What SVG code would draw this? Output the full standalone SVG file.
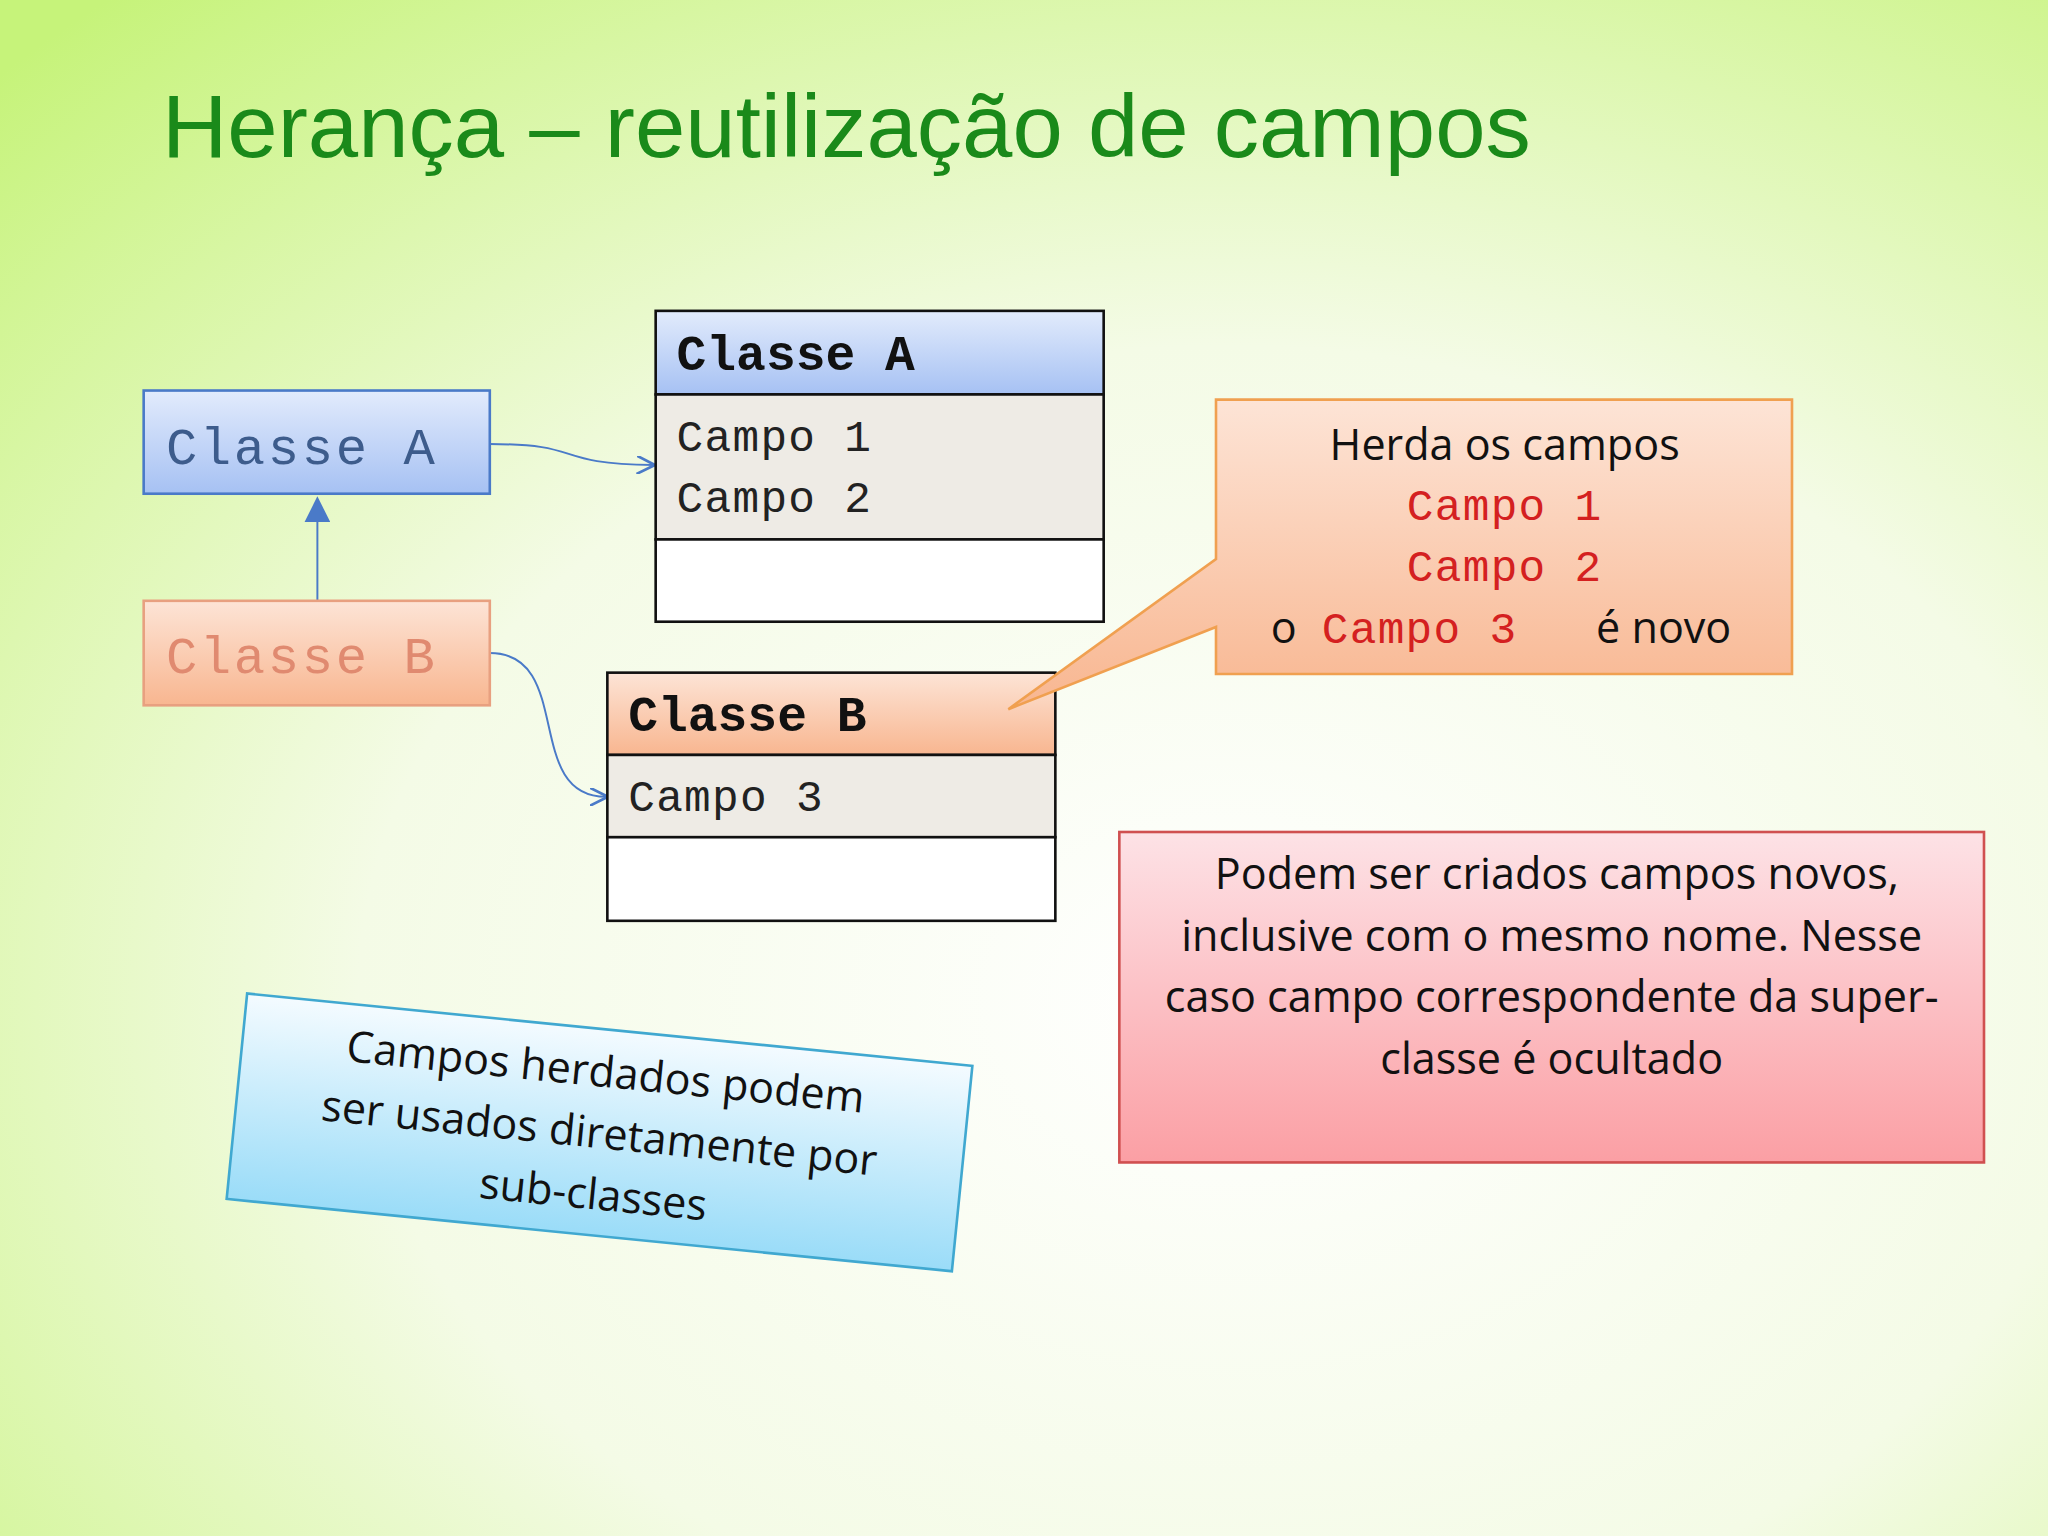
<svg xmlns="http://www.w3.org/2000/svg" width="2048" height="1536" viewBox="0 0 2048 1536">
<defs>
<radialGradient id="bg" cx="0.6" cy="0.65" r="0.85">
<stop offset="0" stop-color="#ffffff"/><stop offset="0.5" stop-color="#f4fbe6"/><stop offset="1" stop-color="#c6f37a"/>
</radialGradient>
<linearGradient id="blue" x1="0" y1="0" x2="0" y2="1"><stop offset="0" stop-color="#e2ebfc"/><stop offset="1" stop-color="#a6c1f3"/></linearGradient>
<linearGradient id="orange" x1="0" y1="0" x2="0" y2="1"><stop offset="0" stop-color="#fde4d6"/><stop offset="1" stop-color="#f8b690"/></linearGradient>
<linearGradient id="pink" x1="0" y1="0" x2="0" y2="1"><stop offset="0" stop-color="#fde2e6"/><stop offset="1" stop-color="#fb9fa4"/></linearGradient>
<linearGradient id="cyan" x1="0" y1="0" x2="0" y2="1"><stop offset="0" stop-color="#f4fbff"/><stop offset="1" stop-color="#9adcf8"/></linearGradient>
<marker id="open" viewBox="0 0 10 10" refX="9" refY="5" markerWidth="14" markerHeight="14" orient="auto" markerUnits="userSpaceOnUse"><path d="M0,0 L10,5 L0,10" fill="none" stroke="#4a7ac8" stroke-width="1.5"/></marker>
<marker id="tri" viewBox="0 0 10 10" refX="9" refY="5" markerWidth="20" markerHeight="20" orient="auto" markerUnits="userSpaceOnUse"><path d="M0,0 L10,5 L0,10 z" fill="#4a7ac8"/></marker>
</defs>
<style>
.mono{font-family:"Liberation Mono","Courier New",monospace}
.sans{font-family:"Open Sans","Noto Sans",sans-serif}
.uml{stroke:#111;stroke-width:2}
</style>
<rect width="2048" height="1536" fill="url(#bg)"/>
<g transform="scale(1.30612)">
<text x="124" y="120" font-family="Liberation Sans, Arial, sans-serif" font-size="68" fill="#1a8a1a" textLength="1048" lengthAdjust="spacingAndGlyphs">Herança – reutilização de campos</text>
<g id="connectors" fill="none" stroke="#4a7ac8" stroke-width="1.5">
<path d="M243,460 L243,382" marker-end="url(#tri)"/>
<path d="M375,340 C450,340 420,355 500,356" marker-end="url(#open)"/>
<path d="M375,500 C440,500 400,610 464,610" marker-end="url(#open)"/>
</g>
<g id="smallA"><rect x="110" y="299" width="265" height="79" fill="url(#blue)" stroke="#4a7ac8" stroke-width="2"/>
<text x="127" y="355" class="mono" font-size="40" fill="#3d5c8c" letter-spacing="2">Classe A</text></g>
<g id="smallB"><rect x="110" y="460" width="265" height="80" fill="url(#orange)" stroke="#e8a080" stroke-width="2"/>
<text x="127" y="515" class="mono" font-size="40" fill="#e08a70" letter-spacing="2">Classe B</text></g>
<g id="umlA">
<rect x="502" y="238" width="343" height="64" fill="url(#blue)" class="uml"/>
<rect x="502" y="302" width="343" height="111" fill="#eeebe5" class="uml"/>
<rect x="502" y="413" width="343" height="63" fill="#fff" class="uml"/>
<text x="518" y="283" class="mono" font-size="38" font-weight="bold" fill="#111">Classe A</text>
<text x="518" y="345" class="mono" font-size="34" fill="#222" letter-spacing="1">Campo 1</text>
<text x="518" y="392" class="mono" font-size="34" fill="#222" letter-spacing="1">Campo 2</text>
</g>
<g id="umlB">
<rect x="465" y="515" width="343" height="63" fill="url(#orange)" class="uml"/>
<rect x="465" y="578" width="343" height="63" fill="#eeebe5" class="uml"/>
<rect x="465" y="641" width="343" height="64" fill="#fff" class="uml"/>
<text x="481" y="560" class="mono" font-size="38" font-weight="bold" fill="#111">Classe B</text>
<text x="481" y="621" class="mono" font-size="34" fill="#222" letter-spacing="1">Campo 3</text>
</g>
<g id="callout">
<path d="M931,306 L1372,306 L1372,516 L931,516 L931,480 L772,543 L931,428 Z" fill="url(#orange)" stroke="#f0a050" stroke-width="2"/>
<text x="1152" y="352" class="sans" font-size="33" text-anchor="middle" fill="#111">Herda os campos</text>
<text x="1152" y="398" class="mono" font-size="34" text-anchor="middle" fill="#d42020" letter-spacing="1">Campo 1</text>
<text x="1152" y="445" class="mono" font-size="34" text-anchor="middle" fill="#d42020" letter-spacing="1">Campo 2</text>
<text x="973" y="492" class="sans" font-size="33" fill="#111">o</text>
<text x="1012" y="492" class="mono" font-size="34" fill="#d42020" letter-spacing="1">Campo 3</text>
<text x="1222" y="492" class="sans" font-size="33" fill="#111">é novo</text>
</g>
<g id="note">
<rect x="857" y="637" width="662" height="253" fill="url(#pink)" stroke="#d05050" stroke-width="2"/>
<g class="sans" font-size="33" text-anchor="middle" fill="#111">
<text x="1192" y="681">Podem ser criados campos novos,</text>
<text x="1188" y="728">inclusive com o mesmo nome. Nesse</text>
<text x="1188" y="775">caso campo correspondente da super-</text>
<text x="1188" y="822">classe é ocultado</text>
</g></g>
<g id="tilted" transform="rotate(5.7 459 867)">
<rect x="180" y="788" width="558" height="158" fill="url(#cyan)" stroke="#40a8d0" stroke-width="2"/>
<g class="sans" font-size="33" text-anchor="middle" fill="#111">
<text x="459" y="832">Campos herdados podem</text>
<text x="459" y="879">ser usados diretamente por</text>
<text x="459" y="926">sub-classes</text>
</g></g>
</g>
</svg>
